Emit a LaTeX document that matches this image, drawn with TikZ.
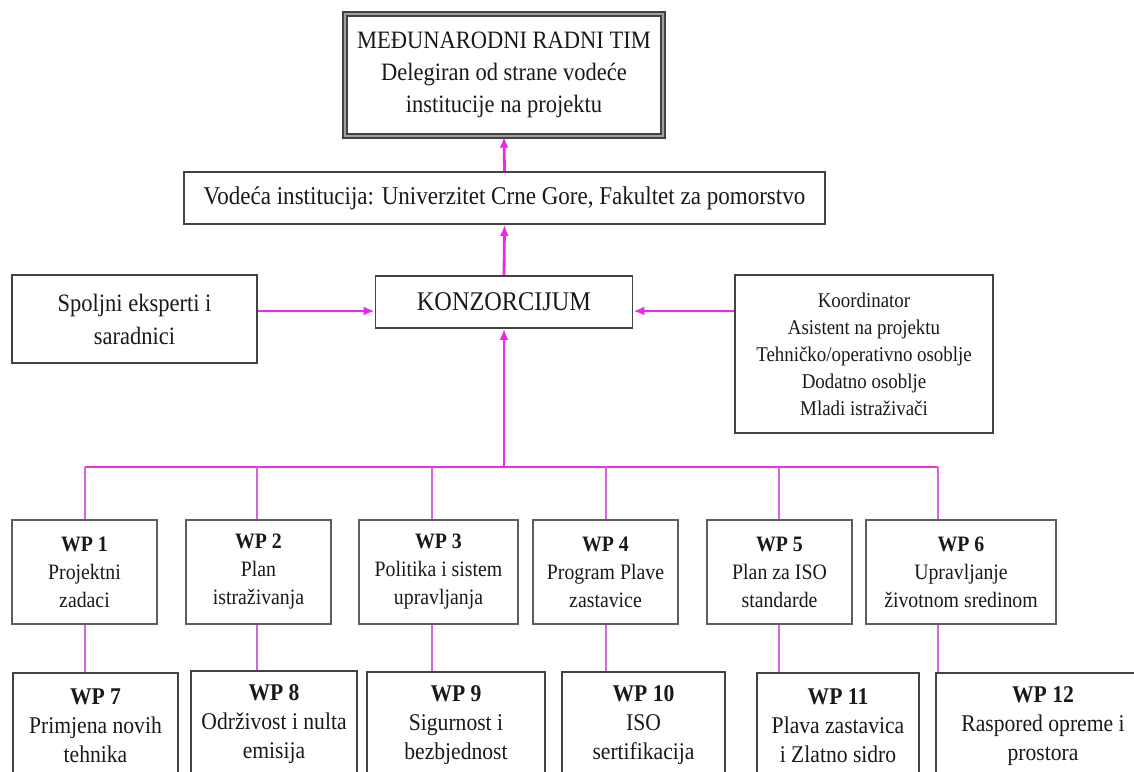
\documentclass[tikz,border=0pt]{standalone}
\usepackage{fontspec}
\setmainfont{Liberation Serif}[FakeStretch=0.9]
\usepackage{tikz}
\usetikzlibrary{calc,positioning,arrows.meta}
\definecolor{mag}{RGB}{236,40,236}
\definecolor{lmag}{RGB}{212,100,226}
\definecolor{frame}{RGB}{66,66,66}
\definecolor{ink}{RGB}{25,25,25}

\begin{document}
\begin{tikzpicture}[x=1pt,y=-1pt,
		box/.style={draw=frame,line width=1.8pt,align=center,inner sep=0pt,text=ink},
		topbox/.style={box,font=\fontsize{25}{32}\selectfont},
		wpbox/.style={box,line width=2.4pt,draw=frame!85,minimum height=104,font=\fontsize{22}{28}\selectfont},
		lowbox/.style={box,anchor=north,minimum height=106,font=\fontsize{24}{29}\selectfont},
		link/.style={draw=mag,line width=2.8pt,-{Latex[length=11pt,width=9pt]}},
		bus/.style={draw=mag!85!lmag,line width=2.6pt},
		drop/.style={draw=lmag,line width=1.7pt}]
		\clip (0,0) rectangle (1134,771);
		% upper part
		\node(tim) [topbox,draw=frame,line width=1.4pt,double=gray!75,double distance=2.4pt,
			minimum width=318,minimum height=122] at (504,75)
			{MEĐUNARODNI RADNI TIM\\Delegiran od strane vodeće\\institucije na projektu};
		\node(vod) [topbox,font=\fontsize{25.6}{32}\selectfont,minimum width=641,minimum height=52] at (504.5,198)
			{Vodeća institucija: Univerzitet Crne Gore, Fakultet za pomorstvo};
		\node(konz) [topbox,font=\fontsize{27}{32}\selectfont,minimum width=257,minimum height=52] at (504,302) {KONZORCIJUM};
		\node(spolj) [topbox,font=\fontsize{25}{33}\selectfont,minimum width=245,minimum height=88] at (134.5,319)
			{Spoljni eksperti i\\saradnici};
		\node(koord) [topbox,font=\fontsize{21}{27}\selectfont,minimum width=258,minimum height=158] at (864,354)
			{Koordinator\\Asistent na projektu\\Tehničko/operativno osoblje\\Dodatno osoblje\\Mladi istraživači};
		% work packages
		\node(wp1) [wpbox,minimum width=145] at (84.5,572) {\textbf{WP 1}\\Projektni\\zadaci};
		\node(wp2) [wpbox,minimum width=145] at (258.5,572) {\textbf{WP 2}\\Plan\\istraživanja};
		\node(wp3) [wpbox,minimum width=159] at (438.5,572) {\textbf{WP 3}\\Politika i sistem\\upravljanja};
		\node(wp4) [wpbox,minimum width=145] at (605.5,572) {\textbf{WP 4}\\Program Plave\\zastavice};
		\node(wp5) [wpbox,minimum width=145] at (779.5,572) {\textbf{WP 5}\\Plan za ISO\\standarde};
		\node(wp6) [wpbox,minimum width=190] at (961,572) {\textbf{WP 6}\\Upravljanje\\životnom sredinom};
		\node(wp7) [lowbox,minimum width=165] at (95.5,672) {\textbf{WP 7}\\Primjena novih\\tehnika};
		\node(wp8) [lowbox,minimum width=166] at (274,670) {\textbf{WP 8}\\Održivost i nulta\\emisija};
		\node(wp9) [lowbox,minimum width=178] at (456,671) {\textbf{WP 9}\\Sigurnost i\\bezbjednost};
		\node(wp10) [lowbox,minimum width=163] at (643.5,671) {\textbf{WP 10}\\ISO\\sertifikacija};
		\node(wp11) [lowbox,minimum width=162] at (838,672) {\textbf{WP 11}\\Plava zastavica\\i Zlatno sidro};
		\node(wp12) [lowbox,minimum width=214] at (1043,672) {\textbf{WP 12}\\Raspored opreme i\\prostora};
		% connectors
		\coordinate(side) at (0,311);
		\coordinate(hub) at (504,467);
		\foreach \i/\x in {1/85,2/257,3/432,4/606,5/779,6/938}
			\coordinate(d\i) at (\x,467);
		\draw[bus] (d1) -- (d6);
		\foreach \i [evaluate=\i as \j using int(\i+6)] in {1,...,6}{
			\draw[drop] (d\i) -- (d\i |- wp\i.north);
			\draw[drop] (d\i |- wp\i.south) -- (d\i |- wp\j.north);
		}
		\draw[link] (vod.north) -- (tim.south);
		\draw[link] (konz.north) -- (vod.south);
		\draw[link] (spolj.east |- side) -- (konz.west |- side);
		\draw[link] (koord.west |- side) -- (konz.east |- side);
		\draw[link] (hub) -- (konz.south);
	\end{tikzpicture}
\end{document}
